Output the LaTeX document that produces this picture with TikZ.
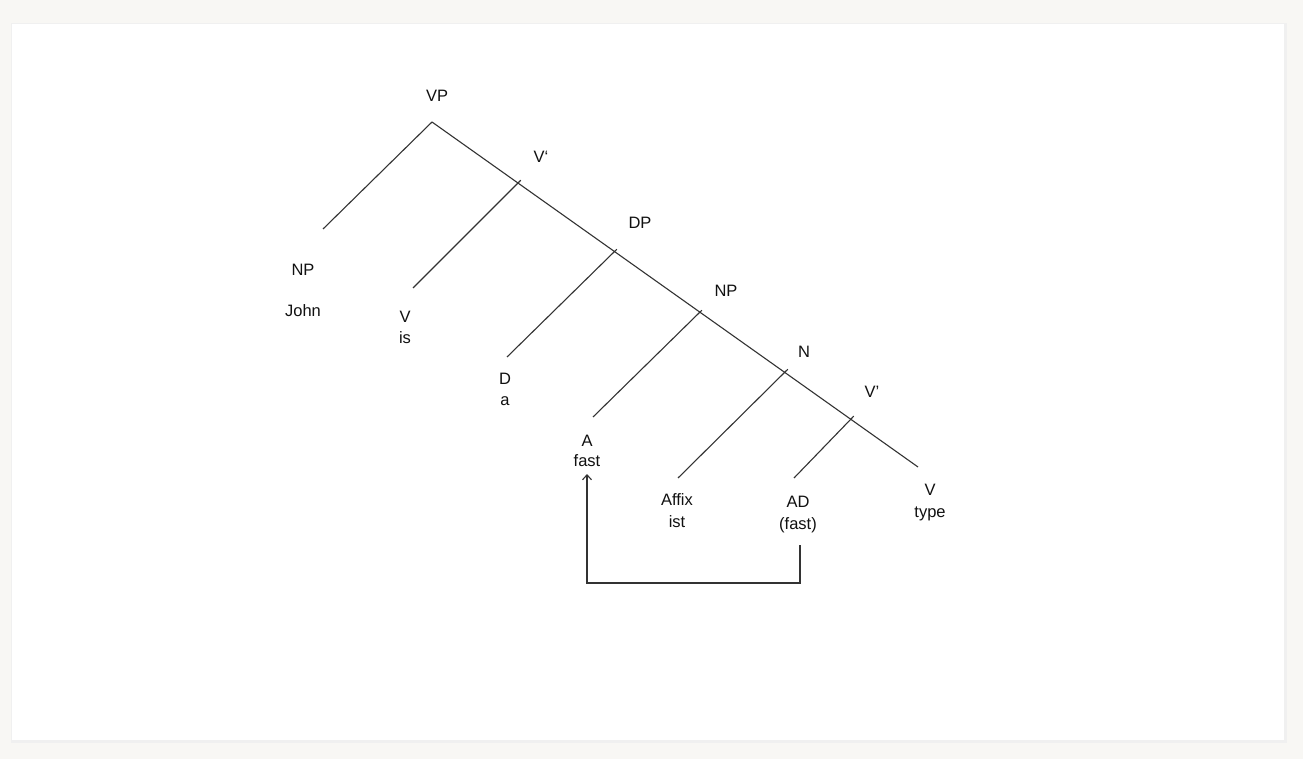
\documentclass[tikz,border=0pt]{standalone}
\usepackage{fontspec}
\setmainfont{Liberation Sans}
\usetikzlibrary{arrows.meta,calc}
\definecolor{bg}{HTML}{F8F7F4}
\definecolor{ink}{HTML}{333333}
\definecolor{txt}{HTML}{111111}
\tikzset{
  lbl/.style={inner sep=0pt, text=txt, font=\fontsize{16.5}{18}\selectfont, anchor=base},
  branch/.style={draw=ink, line width=1.1pt},
}
\begin{document}
\begin{tikzpicture}[x=1pt,y=-1pt]
\useasboundingbox (0,0) rectangle (1303,759);
\fill[bg] (0,0) rectangle (1303,759);
\fill[black!6] (11,23) rectangle (1287,743);
\fill[white] (12,24) rectangle (1284,740);
% tree points
\coordinate (vp) at (432,122);
\coordinate (b1) at (518,183);
\coordinate (b2) at (614,252);
\coordinate (b3) at (699,313);
\coordinate (b4) at (785,372);
\coordinate (b5) at (851,419);
\coordinate (vend) at (918,467);
\coordinate (l0) at (323,229);
\coordinate (l1) at (413,288);
\coordinate (l2) at (507,357);
\coordinate (l3) at (593,417);
\coordinate (l4) at (678,478);
\coordinate (l5) at (794,478);
\draw[branch] (vp) -- (vend);
\draw[branch] (vp) -- (l0);
\draw[branch] (l1) -- ($(b1)!-4pt!(l1)$);
\draw[branch] (l2) -- ($(b2)!-4pt!(l2)$);
\draw[branch] (l3) -- ($(b3)!-4pt!(l3)$);
\draw[branch] (l4) -- ($(b4)!-4pt!(l4)$);
\draw[branch] (l5) -- ($(b5)!-4pt!(l5)$);
% labels
\node[lbl] (tVP) at (437,102) {VP};
\node[lbl] (tV1) at (541,163) {V‘};
\node[lbl] (tDP) at (640,229) {DP};
\node[lbl] (tNP) at (726,296) {NP};
\node[lbl] (tN) at (804,357) {N};
\node[lbl] (tV2) at (872,397) {V’};
\node[lbl] (tNP0) at (303,276) {NP};
\node[lbl] (tJohn) at (303,316) {John};
\node[lbl] (tV) at (405,322) {V};
\node[lbl] (tis) at (405,343) {is};
\node[lbl] (tD) at (505,384) {D};
\node[lbl] (ta) at (505,405) {a};
\node[lbl] (tA) at (587,446) {A};
\node[lbl] (tfast) at (587,466) {fast};
\node[lbl] (tAffix) at (677,505) {Affix};
\node[lbl] (tist) at (677,527) {ist};
\node[lbl] (tAD) at (798,507) {AD};
\node[lbl] (tfast2) at (798,529) {(fast)};
\node[lbl] (tVv) at (930,495) {V};
\node[lbl] (ttype) at (930,517) {type};
% movement arrow
\coordinate (mstart) at (800,545);
\coordinate (mend) at (587,474);
\draw[branch, -{Straight Barb[length=5pt,width=9pt]}] (mstart) -- ++(0,38) -| (mend);
\end{tikzpicture}
\end{document}
